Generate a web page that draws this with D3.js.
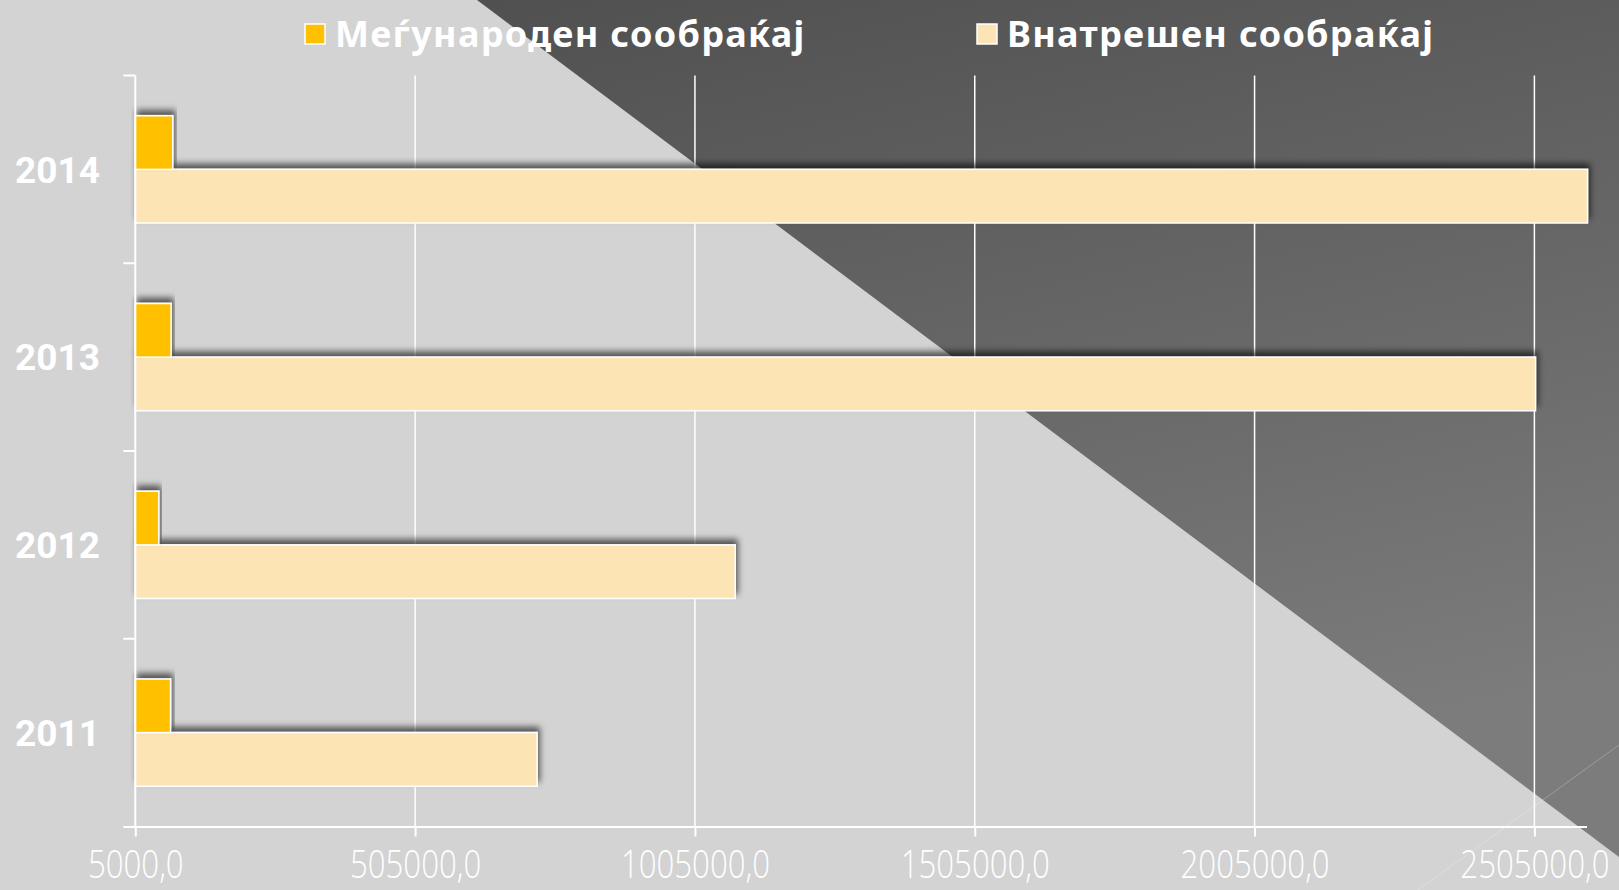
<!DOCTYPE html>
<html>
<head>
<meta charset="utf-8">
<script src="https://cdn.jsdelivr.net/npm/d3@7"></script>
<style>
  body { margin: 0; background: #d3d3d3; overflow: hidden; }
  svg { display: block; }
</style>
</head>
<body>
<script>
// data
const years = ["2014", "2013", "2012", "2011"]
const seriesNames = ["Меѓународен сообраќај", "Внатрешен сообраќај"]
const international = [72000, 69000, 47000, 68000]
const domestic = [2600000, 2507000, 1077000, 723000]
const xTicks = [5000, 505000, 1005000, 1505000, 2005000, 2505000]
const colors = ["#FFC000", "#FDE4B5"]

const W = 1619, H = 890
const margin = { top: 75.5, right: 32, bottom: 63.5, left: 135.3 }

let svg = d3.select('body').append('svg')
  .attr("width", W).attr("height", H)

let defs = svg.append("defs")
let grad = defs.append("linearGradient").attr("id", "dark")
  .attr("x1", 0).attr("y1", 0).attr("x2", 0.3).attr("y2", 1)
grad.append("stop").attr("offset", "0%").attr("stop-color", "#505050")
grad.append("stop").attr("offset", "100%").attr("stop-color", "#7c7c7c")

let shadow = defs.append("filter").attr("id", "shadow")
  .attr("x", "-10%").attr("y", "-50%").attr("width", "120%").attr("height", "200%")
shadow.append("feDropShadow")
  .attr("dx", 2).attr("dy", -5).attr("stdDeviation", 3)
  .attr("flood-color", "#000").attr("flood-opacity", 0.6)

// background
svg.append("rect").attr("width", W).attr("height", H).attr("fill", "#d3d3d3")
svg.append("polygon")
  .attr("points", "477,0 1619,0 1619,857")
  .attr("fill", "url(#dark)")
// faint decorative line bottom right
svg.append("line")
  .attr("x1", 1418).attr("y1", 890).attr("x2", 1619).attr("y2", 745)
  .attr("stroke", "#ffffff").attr("stroke-opacity", 0.25).attr("stroke-width", 1)

// scales
let x = d3.scaleLinear()
  .domain([5000, 2599000])
  .range([margin.left, W - margin.right])

let y0 = d3.scaleBand()
  .domain(years)
  .range([margin.top, H - margin.bottom])
  .paddingInner(0.4286)
  .paddingOuter(0.2143)

let y1 = d3.scaleBand()
  .domain([0, 1])
  .range([0, y0.bandwidth()])

const step = y0.step()
const plotTop = margin.top, plotBottom = H - margin.bottom

// gridlines
svg.append("g").selectAll("line").data(xTicks.slice(1)).enter()
  .append("line")
  .attr("x1", d => x(d)).attr("x2", d => x(d))
  .attr("y1", plotTop).attr("y2", plotBottom)
  .attr("stroke", "#fff").attr("stroke-width", 1.5)

// bars
let rows = years.map((yr, i) => ({ year: yr, vals: [international[i], domestic[i]] }))

let groups = svg.append("g").selectAll("g").data(rows).enter()
  .append("g")
  .attr("transform", d => `translate(0,${y0(d.year)})`)

// domestic first so the international bar sits on top of its shadow
groups.selectAll("rect")
  .data(d => [1, 0].map(k => ({ k: k, v: d.vals[k] })))
  .enter().append("rect")
  .attr("x", x(5000))
  .attr("y", d => y1(d.k))
  .attr("width", d => Math.min(x(d.v), x.range()[1] + 2) - x(5000))
  .attr("height", y1.bandwidth())
  .attr("fill", d => colors[d.k])
  .attr("stroke", "#fff").attr("stroke-width", 1.5)
  .attr("filter", "url(#shadow)")

// x axis
let xAxis = svg.append("g")
  .attr("transform", `translate(0,${plotBottom})`)
  .call(d3.axisBottom(x).tickValues(xTicks).tickSize(10).tickPadding(14)
    .tickFormat(d => d3.format(".1f")(d).replace(".", ",")))
xAxis.select(".domain").attr("stroke", "#fff").attr("stroke-width", 2)
  .attr("d", `M${margin.left - 12},0.5H${W - margin.right}`)
xAxis.selectAll(".tick line").attr("stroke", "#fff").attr("stroke-width", 2)
xAxis.selectAll("text")
  .attr("fill", "#fff")
  .attr("transform", "scale(0.8,1)")
  .style("font-family", "'Open Sans', sans-serif")
  .style("font-weight", "300")
  .style("font-size", "39px")
  .attr("dy", "0.71em")

// y axis line and ticks at the category boundaries
svg.append("line")
  .attr("x1", margin.left).attr("x2", margin.left)
  .attr("y1", plotTop).attr("y2", plotBottom)
  .attr("stroke", "#fff").attr("stroke-width", 2)
svg.append("g").selectAll("line").data(d3.range(years.length)).enter()
  .append("line")
  .attr("x1", margin.left - 12).attr("x2", margin.left)
  .attr("y1", d => plotTop + d * step).attr("y2", d => plotTop + d * step)
  .attr("stroke", "#fff").attr("stroke-width", 2)

// year labels
svg.append("g").selectAll("text").data(years).enter()
  .append("text")
  .attr("x", 100)
  .attr("y", d => y0(d) + y0.bandwidth() / 2)
  .attr("dy", "0.36em")
  .attr("text-anchor", "end")
  .attr("fill", "#fff")
  .style("font-family", "Roboto, sans-serif")
  .style("font-weight", "bold")
  .style("font-size", "37px")
  .text(d => d)

// legend
const legendX = [305, 977]
let legend = svg.append("g").selectAll("g").data(seriesNames).enter()
  .append("g")
  .attr("transform", (d, i) => `translate(${legendX[i]},34)`)
legend.append("rect")
  .attr("x", 0).attr("y", -10).attr("width", 20).attr("height", 20)
  .attr("fill", (d, i) => colors[i])
  .attr("stroke", "#fff").attr("stroke-width", 1.5)
legend.append("text")
  .attr("x", 30).attr("dy", "0.36em")
  .attr("fill", "#fff")
  .style("font-family", "'Noto Sans', sans-serif")
  .style("font-weight", "bold")
  .style("font-size", "36px")
  .style("letter-spacing", "1.3px")
  .text(d => d)
</script>
</body>
</html>
